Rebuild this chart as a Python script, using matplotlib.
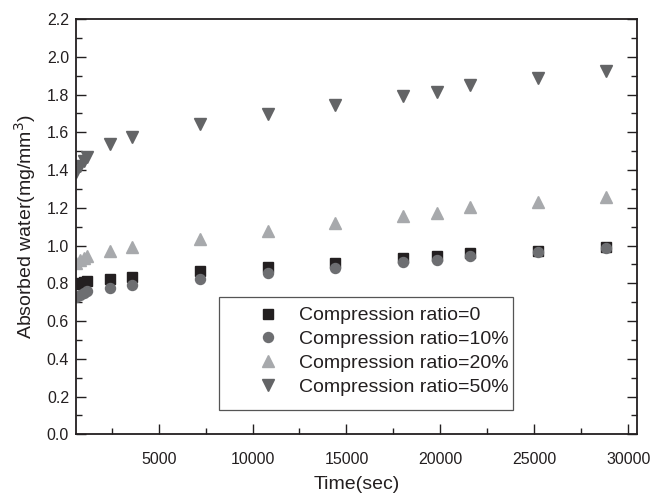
import matplotlib
matplotlib.use("Agg")
import matplotlib.pyplot as plt
from matplotlib.ticker import MultipleLocator, FormatStrFormatter
from matplotlib.patches import Rectangle

plt.rcParams['font.family'] = ['Liberation Sans', 'DejaVu Sans']

time_sec = [600, 800, 1000, 1200, 2400, 3600, 7200, 10800, 14400, 18000, 19800, 21600, 25200, 28800]
ratio_0 = [0.795, 0.800, 0.805, 0.810, 0.823, 0.835, 0.865, 0.888, 0.909, 0.935, 0.943, 0.959, 0.972, 0.990]
ratio_10 = [0.725, 0.740, 0.750, 0.758, 0.773, 0.789, 0.821, 0.853, 0.882, 0.911, 0.923, 0.944, 0.964, 0.985]
ratio_20 = [0.910, 0.925, 0.935, 0.945, 0.973, 0.990, 1.036, 1.078, 1.117, 1.158, 1.174, 1.206, 1.232, 1.259]
ratio_50 = [1.390, 1.420, 1.450, 1.470, 1.538, 1.573, 1.644, 1.695, 1.744, 1.794, 1.815, 1.852, 1.887, 1.926]
labels = ["Compression ratio=0", "Compression ratio=10%", "Compression ratio=20%", "Compression ratio=50%"]

W, H = 658, 493
fig = plt.figure(figsize=(W/100, H/100), dpi=100)
ax = fig.add_axes([76/W, 1-434.3/H, (637-76)/W, (434.3-19)/H])

ax.plot(time_sec, ratio_0, linestyle='none', marker='s', ms=6.5, color='#231f20', label=labels[0])
ax.plot(time_sec, ratio_10, linestyle='none', marker='o', ms=7.2, color='#6d6e71', label=labels[1])
ax.plot(time_sec, ratio_20, linestyle='none', marker='^', ms=8, color='#a7a9ac', label=labels[2])
ax.plot(time_sec, ratio_50, linestyle='none', marker='v', ms=8, color='#636466', label=labels[3])

ax.set_xlim(600, 30470)
ax.set_ylim(0, 2.2)
ax.xaxis.set_major_locator(MultipleLocator(5000))
ax.xaxis.set_minor_locator(MultipleLocator(2500))
ax.yaxis.set_major_locator(MultipleLocator(0.2))
ax.yaxis.set_minor_locator(MultipleLocator(0.1))
ax.yaxis.set_major_formatter(FormatStrFormatter('%.1f'))

ax.tick_params(axis='both', which='both', direction='in', labelsize=11.5, colors='#231f20')
ax.tick_params(axis='x', which='major', length=7, width=1, pad=12.5)
ax.tick_params(axis='x', which='minor', length=4, width=1)
ax.tick_params(axis='y', which='major', length=7, width=1, pad=5, right=True)
ax.tick_params(axis='y', which='minor', length=4, width=1, right=True)
for s in ax.spines.values():
    s.set_linewidth(1.3)
    s.set_color('#231f20')

ax.set_xlabel('Time(sec)', fontsize=14, color='#231f20', labelpad=6.5)
ax.set_ylabel('Absorbed water(mg/mm$^3$)', fontsize=14, color='#231f20', labelpad=6)

leg = ax.legend(loc='upper left', bbox_to_anchor=(219/W, 1-301/H), bbox_transform=fig.transFigure,
                fontsize=14, frameon=False, borderpad=0.3, labelspacing=0.32,
                handlelength=4.4, handletextpad=-0.6, numpoints=1, borderaxespad=0)
for t in leg.get_texts():
    t.set_color('#231f20')

frame = Rectangle((219.3/W, 1-410/H), (512.7-219.3)/W, (410-296.7)/H, transform=fig.transFigure,
                  fill=False, edgecolor='#555555', linewidth=0.9, zorder=5)
fig.add_artist(frame)

fig.savefig('out.png', dpi=100)
